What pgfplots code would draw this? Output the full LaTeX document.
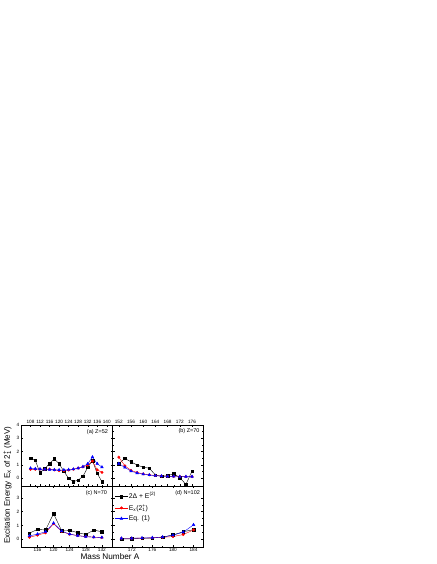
\documentclass[border=0pt]{standalone}
\usepackage{fontspec}
\setmainfont{Liberation Sans}
\usepackage{pgfplots}
\pgfplotsset{compat=1.18}
\tikzset{plabel/.style={font=\fontsize{5.5}{6}\selectfont, anchor=east, inner sep=0pt}}
\begin{document}
\begin{tikzpicture}
\path[use as bounding box] (0pt,0pt) rectangle (436pt,564pt);
\pgfplotsset{
  panel/.style={scale only axis, height=61pt, anchor=south west,
    tick align=inside, tick pos=both, major tick length=2pt, minor tick length=1.1pt,
    minor x tick num=1, minor y tick num=1,
    every tick/.style={black, line width=0.35pt},
    axis line style={line width=0.5pt},
    tick label style={font=\fontsize{4.7}{5}\selectfont},
    /pgf/number format/assume math mode=true,
    xticklabel style={inner sep=1.2pt},
    yticklabel style={inner sep=1.6pt},
  },
  blk/.style={black, line width=0.4pt, mark=square*, mark size=1.25pt, mark options={solid}},
  rd/.style={red, line width=0.4pt, mark=*, mark size=1.25pt, mark options={solid}},
  bl/.style={blue, line width=0.4pt, mark=triangle*, mark size=1.6pt, mark options={solid}},
}
% (a) Z=52
\begin{axis}[panel, at={(21pt,78pt)}, width=91.7pt,
  xmin=104, xmax=142.5, ymin=-0.6, ymax=4,
  xtick={108,112,...,140}, ytick={0,1,2,3,4},
  xticklabel pos=upper]
\addplot[blk] coordinates {(108,1.48)(110,1.33)(112,0.40)(114,0.70)(116,1.10)(118,1.45)(120,1.07)(122,0.52)(124,-0.03)(126,-0.27)(128,-0.15)(130,0.12)(132,0.80)(134,1.32)(136,0.35)(138,-0.28)};
\addplot[rd] coordinates {(108,0.65)(110,0.66)(112,0.67)(114,0.66)(116,0.67)(118,0.61)(120,0.56)(122,0.56)(124,0.60)(126,0.66)(128,0.75)(130,0.84)(132,0.97)(134,1.28)(136,0.61)(138,0.43)};
\addplot[bl] coordinates {(108,0.74)(110,0.70)(112,0.68)(114,0.66)(116,0.64)(118,0.62)(120,0.61)(122,0.61)(124,0.63)(126,0.67)(128,0.74)(130,0.86)(132,1.07)(134,1.58)(136,1.08)(138,0.82)};
\node[plabel] at (rel axis cs:0.95,0.885) {(a) Z=52};
\end{axis}
% (b) Z=70
\begin{axis}[panel, at={(112.7pt,78pt)}, width=90.6pt,
  xmin=150, xmax=179.7, ymin=-0.6, ymax=4,
  xtick={152,156,...,176}, ytick={0,1,2,3,4}, yticklabels={},
  xticklabel pos=upper]
\addplot[blk] coordinates {(152,1.08)(154,1.48)(156,1.22)(158,0.98)(160,0.82)(162,0.74)(164,0.23)(166,0.12)(168,0.18)(170,0.33)(172,0.03)(174,-0.48)(176,0.52)};
\addplot[rd] coordinates {(152,1.57)(154,0.92)(156,0.58)(158,0.42)(160,0.31)(162,0.24)(164,0.19)(166,0.15)(168,0.13)(170,0.12)(172,0.11)(174,0.10)(176,0.10)};
\addplot[bl] coordinates {(152,1.08)(154,0.80)(156,0.52)(158,0.38)(160,0.29)(162,0.23)(164,0.18)(166,0.15)(168,0.13)(170,0.12)(172,0.11)(174,0.11)(176,0.11)};
\node[plabel] at (rel axis cs:0.96,0.9) {(b) Z=70};
\end{axis}
% (c) N=70
\begin{axis}[panel, at={(21pt,17pt)}, width=91.7pt,
  xmin=111.9, xmax=134.7, ymin=-0.55, ymax=3.85,
  xtick={116,120,...,132}, ytick={0,1,2,3},
  xticklabel pos=lower]
\addplot[blk] coordinates {(114,0.45)(116,0.72)(118,0.68)(120,1.85)(122,0.63)(124,0.65)(126,0.48)(128,0.36)(130,0.67)(132,0.55)};
\addplot[rd] coordinates {(114,0.15)(116,0.30)(118,0.47)(120,1.13)(122,0.57)(124,0.37)(126,0.27)(128,0.20)(130,0.16)(132,0.13)};
\addplot[bl] coordinates {(114,0.25)(116,0.38)(118,0.55)(120,1.17)(122,0.60)(124,0.38)(126,0.27)(128,0.20)(130,0.16)(132,0.14)};
\node[plabel] at (rel axis cs:0.94,0.885) {(c) N=70};
\end{axis}
% (d) N=102
\begin{axis}[panel, at={(112.7pt,17pt)}, width=90.6pt,
  xmin=168.3, xmax=185.9, ymin=-0.55, ymax=3.85,
  xtick={172,176,...,184}, ytick={0,1,2,3}, yticklabels={},
  xticklabel pos=lower,
  legend style={draw=none, fill=none, at={(0.02,0.91)}, anchor=north west,
    font=\fontsize{6.8}{7}\selectfont, inner sep=0pt, row sep=2.2pt,
    nodes={inner sep=0.8pt}},
  legend cell align=left,
  legend image code/.code={\draw[mark repeat=2,mark phase=2] plot coordinates {(0pt,0pt) (6.5pt,0pt) (13pt,0pt)};}]
\addplot[blk] coordinates {(170,0.03)(172,0.04)(174,0.07)(176,0.10)(178,0.16)(180,0.32)(182,0.55)(184,0.70)};
\addlegendentry{2Δ + E\textsuperscript{(2)}}
\addplot[rd] coordinates {(170,0.08)(172,0.08)(174,0.09)(176,0.11)(178,0.15)(180,0.20)(182,0.35)(184,0.68)};
\addlegendentry{E\textsubscript{x}(2\rlap{\textsubscript{1}}\textsuperscript{+})}
\addplot[bl] coordinates {(170,0.08)(172,0.08)(174,0.10)(176,0.12)(178,0.17)(180,0.30)(182,0.52)(184,1.05)};
\addlegendentry{Eq. (1)}
\node[plabel] at (rel axis cs:0.965,0.885) {(d) N=102};
\end{axis}
\node[font=\fontsize{8.2}{9}\selectfont] at (110pt,7.5pt) {Mass Number A};
\node[rotate=90, font=\fontsize{8}{9}\selectfont] at (7.5pt,79pt) {Excitation Energy E\textsubscript{x} of 2\rlap{\textsubscript{1}}\textsuperscript{+} (MeV)};
\end{tikzpicture}
\end{document}
